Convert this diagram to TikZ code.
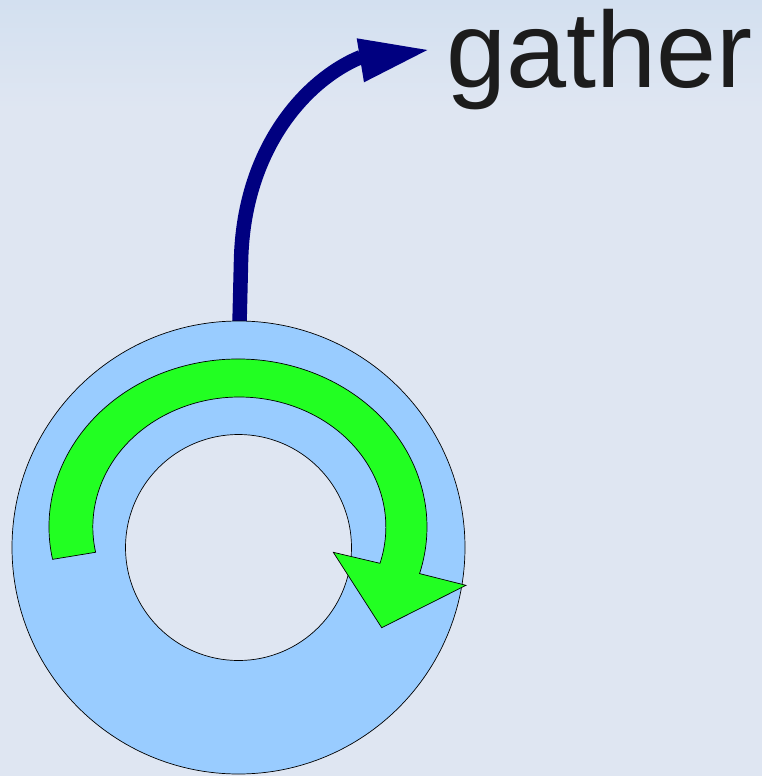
\documentclass[tikz,border=0pt]{standalone}
\usepackage{fontspec}
\setmainfont{Liberation Sans}
\definecolor{bgtop}{HTML}{D3E0F0}
\definecolor{bgmain}{HTML}{DFE6F2}
\definecolor{ringblue}{HTML}{99CCFF}
\definecolor{arrowgreen}{HTML}{22FF22}
\definecolor{navyarrow}{HTML}{000080}
\definecolor{textgray}{HTML}{1C1C1C}
\tikzset{
  ring/.style={fill=ringblue, draw=black, line width=0.7pt, even odd rule},
  cyclearrow/.style={fill=arrowgreen, draw=black, line width=0.7pt, line join=miter},
  shaft/.style={draw=navyarrow, line width=14.5pt, line cap=butt},
  headtri/.style={fill=navyarrow},
  label/.style={font=\fontsize{108}{120}\selectfont, text=textgray, inner sep=0pt, anchor=base west}
}
\begin{document}
\begin{tikzpicture}[x=1pt,y=-1pt]
\useasboundingbox (0,0) rectangle (762,776);
% background
\fill[bgmain] (0,0) rectangle (762,776);
\shade[top color=bgtop, bottom color=bgmain] (0,0) rectangle (762,110);
% coordinates
\coordinate (ringtop) at (239.5,324);
\coordinate (bend) at (241,262);
\coordinate (shaftend) at (361,57);
\coordinate (ringc) at (238.5,547.5);
% navy arrow shaft
\draw[shaft] (ringtop) -- (bend) .. controls (243,150) and (305,80) .. (shaftend);
% arrow head
\fill[headtri] (356.7,38.3) coordinate (hb1) -- (427.3,50) coordinate (tip) -- (364,82.3) coordinate (hb2) -- cycle;
% ring (annulus)
\path[ring] (ringc) circle[radius=226.5] (ringc) circle[radius=113];
% green circular arrow
\path[cyclearrow] (238,527) ++(168.9:189 and 168)
  arc[start angle=168.9, end angle=376.1, x radius=189, y radius=168]
  -- (466,585.3) -- (381.7,627.7) -- (333.3,552.3) -- (380,563.3)
  arc[start angle=16.2, end angle=-191.2, x radius=146.5, y radius=130]
  -- cycle;
% label
\node[label] (gather) at (446.5,87.3) {gather};
\end{tikzpicture}
\end{document}
